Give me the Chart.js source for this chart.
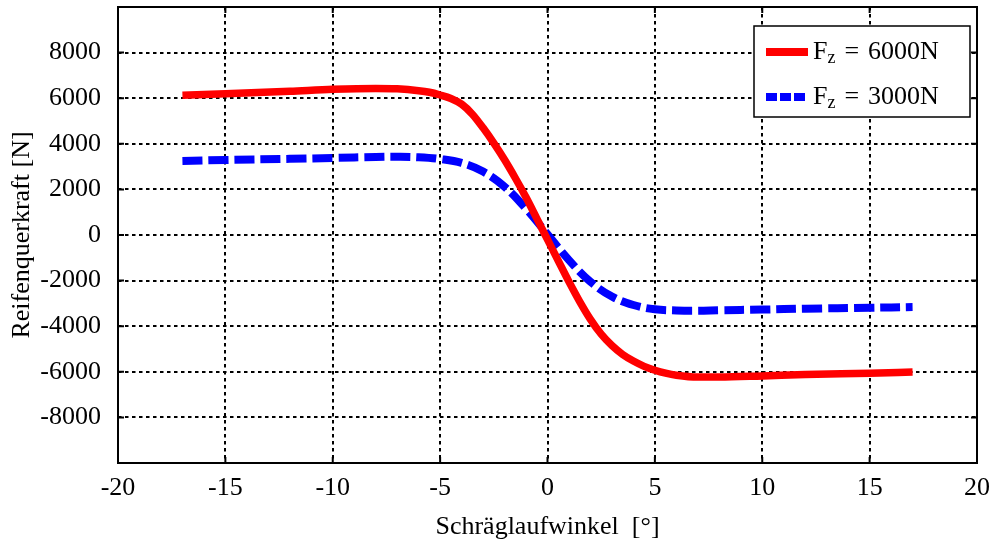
<!DOCTYPE html>
<html>
<head>
<meta charset="utf-8">
<script src="https://cdn.jsdelivr.net/npm/chart.js@4/dist/chart.umd.min.js"></script>
<style>
  html, body { margin: 0; padding: 0; background: #fff; }
  #wrap { width: 998px; height: 543px; }
</style>
</head>
<body>
<div id="wrap"><canvas id="chart" width="998" height="543"></canvas></div>
<script>
// slip angle [deg] and lateral tyre force [N]
var angles6000 = [-17, -15, -12, -10, -8, -7, -6, -5.5, -5, -4.5, -4, -3.5, -3, -2.5, -2, -1.5, -1, -0.5, 0, 0.5, 1, 1.5, 2, 2.5, 3, 3.5, 4, 4.5, 5, 5.5, 6, 7, 8, 10, 12, 15, 17];
var force6000 = [6130, 6190, 6300, 6390, 6430, 6410, 6330, 6260, 6140, 5990, 5740, 5300, 4700, 4030, 3300, 2500, 1650, 730, -200, -1130, -2050, -2920, -3700, -4350, -4850, -5240, -5530, -5760, -5930, -6060, -6150, -6230, -6230, -6180, -6120, -6060, -6010];
var angles3000 = [-17, -15, -12, -10, -8, -7, -6, -5, -4, -3, -2, -1, 0, 1, 2, 3, 4, 5, 6, 7, 8, 10, 12, 15, 17];
var force3000 = [3250, 3290, 3340, 3380, 3420, 3430, 3410, 3330, 3160, 2780, 2120, 1150, 30, -1100, -2050, -2700, -3070, -3260, -3310, -3320, -3300, -3270, -3230, -3190, -3160];
var seriesNames = ['6000N', '3000N'];
var xTicks = [-20, -15, -10, -5, 0, 5, 10, 15, 20];
var yTicks = [-8000, -6000, -4000, -2000, 0, 2000, 4000, 6000, 8000];

var FONT = "'Liberation Serif', 'Times New Roman', serif";

function points(xs, ys) {
  return xs.map(function (x, i) { return { x: x, y: ys[i] }; });
}

// frame, inside ticks and the legend box (MATLAB style)
var framePlugin = {
  id: 'frame',
  afterDraw: function (chart) {
    var ctx = chart.ctx;
    var a = chart.chartArea;
    var xs = chart.scales.x, ys = chart.scales.y;
    ctx.save();
    ctx.strokeStyle = '#000';
    ctx.lineWidth = 2;
    ctx.setLineDash([]);
    ctx.beginPath();
    xTicks.forEach(function (v) {
      var px = xs.getPixelForValue(v);
      ctx.moveTo(px, a.bottom); ctx.lineTo(px, a.bottom - 6);
      ctx.moveTo(px, a.top); ctx.lineTo(px, a.top + 6);
    });
    yTicks.forEach(function (v) {
      var py = ys.getPixelForValue(v);
      ctx.moveTo(a.left, py); ctx.lineTo(a.left + 6, py);
      ctx.moveTo(a.right, py); ctx.lineTo(a.right - 6, py);
    });
    ctx.stroke();
    ctx.strokeRect(a.left, a.top, a.right - a.left, a.bottom - a.top);

    // legend
    var bw = 216, bh = 91;
    var bx = a.right - 7 - bw, by = a.top + 19;
    ctx.fillStyle = '#fff';
    ctx.fillRect(bx, by, bw, bh);
    ctx.lineWidth = 1.5;
    ctx.strokeRect(bx, by, bw, bh);
    chart.data.datasets.forEach(function (ds, i) {
      var y = by + 26 + i * 45;
      ctx.strokeStyle = ds.borderColor;
      ctx.lineWidth = 8;
      ctx.setLineDash(i === 1 ? [11, 3] : []);
      ctx.beginPath();
      ctx.moveTo(bx + 12, y);
      ctx.lineTo(bx + 54, y);
      ctx.stroke();
      ctx.setLineDash([]);
      ctx.fillStyle = '#000';
      ctx.textBaseline = 'middle';
      ctx.textAlign = 'left';
      var tx = bx + 59;
      ctx.font = '26px ' + FONT;
      ctx.fillText('F', tx, y);
      tx += ctx.measureText('F').width;
      ctx.font = '18px ' + FONT;
      ctx.fillText('z', tx, y + 6);
      tx += ctx.measureText('z').width + 9;
      ctx.font = '26px ' + FONT;
      ctx.fillText('=', tx, y);
      tx += ctx.measureText('=').width + 9;
      ctx.fillText(seriesNames[i], tx, y);
    });
    ctx.restore();
  }
};

var gridStyle = {
  color: '#000',
  lineWidth: 2,
  drawTicks: false
};

new Chart(document.getElementById('chart').getContext('2d'), {
  type: 'line',
  data: {
    datasets: [{
      label: 'F_z = ' + seriesNames[0],
      data: points(angles6000, force6000),
      borderColor: '#ff0000',
      borderWidth: 7.5,
      pointRadius: 0,
      fill: false,
      cubicInterpolationMode: 'monotone'
    }, {
      label: 'F_z = ' + seriesNames[1],
      data: points(angles3000, force3000),
      borderColor: '#0000ff',
      borderWidth: 8,
      borderDash: [20, 6],
      pointRadius: 0,
      fill: false,
      tension: 0.4
    }]
  },
  options: {
    responsive: false,
    animation: false,
    layout: { padding: { left: 0, right: 21, top: 7, bottom: 0 } },
    plugins: {
      legend: { display: false },
      tooltip: { enabled: false }
    },
    scales: {
      x: {
        type: 'linear',
        min: -20,
        max: 20,
        afterFit: function (s) { s.height = 80; s.paddingLeft = 0; s.paddingRight = 0; },
        afterBuildTicks: function (s) { s.ticks = xTicks.map(function (v) { return { value: v }; }); },
        grid: gridStyle,
        border: { display: false, dash: [3.5, 3.5] },
        ticks: { color: '#000', padding: 10, font: { family: FONT, size: 26 } },
        title: {
          display: true,
          text: 'Schräglaufwinkel  [°]',
          color: '#000',
          font: { family: FONT, size: 26 },
          padding: { top: 0, bottom: 0 }
        }
      },
      y: {
        min: -10000,
        max: 10000,
        afterFit: function (s) { s.width = 118; s.paddingTop = 0; s.paddingBottom = 0; },
        ticks: {
          stepSize: 2000,
          color: '#000',
          padding: 17,
          font: { family: FONT, size: 26 },
          callback: function (v) { return yTicks.indexOf(v) >= 0 ? String(v) : ''; }
        },
        grid: gridStyle,
        border: { display: false, dash: [3.5, 3.5] },
        title: {
          display: true,
          text: 'Reifenquerkraft [N]',
          color: '#000',
          font: { family: FONT, size: 26 },
          padding: { top: 7, bottom: 0 }
        }
      }
    }
  },
  plugins: [framePlugin]
});
</script>
</body>
</html>
